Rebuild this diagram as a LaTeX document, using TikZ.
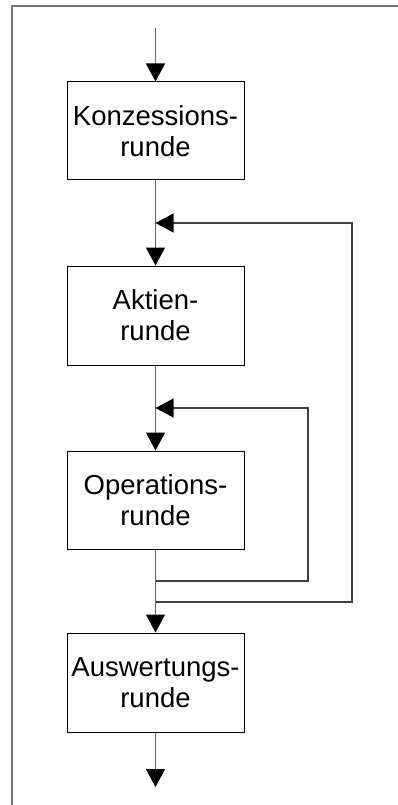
\documentclass[tikz,border=0pt]{standalone}
\usepackage{fontspec}
\setmainfont{Liberation Sans}
\usetikzlibrary{arrows.meta}
\begin{document}
\begin{tikzpicture}[x=1pt,y=-1pt,
  stepbox/.style={draw=black,line width=1pt,minimum width=177pt,align=center,
    inner sep=0pt,font=\fontsize{27.5}{31}\selectfont},
  conn/.style={draw=black!60,line width=1.3pt},
  fb/.style={draw=black!75,line width=1.2pt},
  arr/.style={-{Triangle[width=19pt,length=18pt,color=black,fill=black]}},
  frame/.style={draw=black!55,line width=1.6pt}]
\useasboundingbox (0,0) rectangle (398,805);
\draw[frame] (12,805) -- (12,6) -- (398,6);
\node[stepbox,minimum height=98pt] (k) at (155.5,131) {Konzessions-\\runde};
\node[stepbox,minimum height=99pt] (a) at (155.5,315.5) {Aktien-\\runde};
\node[stepbox,minimum height=98pt] (o) at (155.5,500) {Operations-\\runde};
\node[stepbox,minimum height=99pt] (w) at (155.5,682.5) {Auswertungs-\\runde};
\coordinate (s) at (155.5,28);
\coordinate (e) at (155.5,787);
\coordinate (j1) at (155.5,223);
\coordinate (r1t) at (352,223);
\coordinate (r1b) at (352,602);
\coordinate (m1) at (155.5,602);
\coordinate (j2) at (155.5,408);
\coordinate (r2t) at (308,408);
\coordinate (r2b) at (308,581);
\coordinate (m2) at (155.5,581);
\draw[conn,arr] (s) -- (k.north);
\draw[conn,arr] (k.south) -- (a.north);
\draw[conn,arr] (a.south) -- (o.north);
\draw[conn,arr] (o.south) -- (w.north);
\draw[conn,arr] (w.south) -- (e);
\draw[fb,arr] (m1) -- (r1b) -- (r1t) -- (j1);
\draw[fb,arr] (m2) -- (r2b) -- (r2t) -- (j2);
\end{tikzpicture}
\end{document}
